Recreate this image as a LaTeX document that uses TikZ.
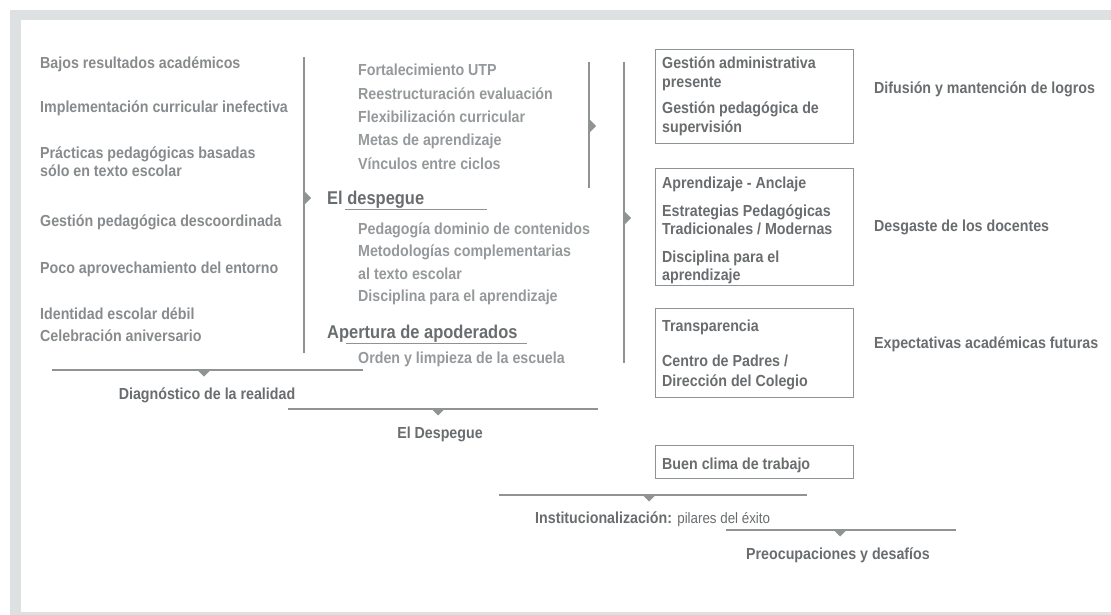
\documentclass[tikz,border=0pt]{standalone}
\usepackage{fontspec}
\setmainfont{Liberation Sans}[FakeStretch=0.89]
\usepackage{tikz}
\usetikzlibrary{positioning}
\definecolor{framegray}{HTML}{DDE1E1}
\definecolor{linegray}{HTML}{8F9394}
\definecolor{causegray}{HTML}{888B8D}
\definecolor{actiongray}{HTML}{96999B}
\definecolor{txtdark}{HTML}{6A6D6F}
\newcommand{\tipright}[1]{\fill[linegray] (#1) ++(1,-6) -- ++(6,6) -- ++(-6,6) -- cycle;}
\newcommand{\tipdown}[1]{\fill[linegray] (#1) ++(-6,0.5) -- ++(12,0) -- ++(-6,6) -- cycle;}

\begin{document}
\begin{tikzpicture}[x=1pt, y=-1pt,
  every node/.style={inner sep=0pt, anchor=base west, font=\bfseries\fontsize{16}{19}\selectfont},
  cause/.style={text=causegray},
  action/.style={text=actiongray},
  head/.style={text=txtdark, font=\bfseries\fontsize{18.5}{22}\selectfont},
  pillar/.style={text=txtdark},
  pillarbox/.style={draw=linegray, line width=1pt, anchor=north west, minimum width=198pt},
  stage/.style={text=txtdark, anchor=base},
  rule/.style={draw=linegray, line width=1.3pt}]
\useasboundingbox (0,0) rectangle (1111,615);
\fill[framegray] (10,10) rectangle (1111,615);
\fill[white] (21,20) rectangle (1111,612);

\node[cause] (c1) at (40,69) {Bajos resultados académicos};
\node[cause] (c2) at (40,113) {Implementación curricular inefectiva};
\node[cause] (c3) at (40,158) {Prácticas pedagógicas basadas};
\node[cause] (c3b) at (40,176) {sólo en texto escolar};
\node[cause] (c4) at (40,226) {Gestión pedagógica descoordinada};
\node[cause] (c5) at (40,273) {Poco aprovechamiento del entorno};
\node[cause] (c6) at (40,319) {Identidad escolar débil};
\node[cause] (c6b) at (40,341) {Celebración aniversario};

\node[action] (a1) at (358,76) {Fortalecimiento UTP};
\node[action] (a2) at (358,100) {Reestructuración evaluación};
\node[action] (a3) at (358,123) {Flexibilización curricular};
\node[action] (a4) at (358,146) {Metas de aprendizaje};
\node[action] (a5) at (358,169) {Vínculos entre ciclos};
\node[head] (despegue) at (327,204) {El despegue};
\node[action] (a6) at (358,234) {Pedagogía dominio de contenidos};
\node[action] (a7) at (358,256) {Metodologías complementarias};
\node[action] (a7b) at (358,279) {al texto escolar};
\node[action] (a8) at (358,301) {Disciplina para el aprendizaje};
\node[head] (apertura) at (327,338) {Apertura de apoderados};
\node[action] (a9) at (358,363) {Orden y limpieza de la escuela};

\node[pillarbox, minimum height=94pt] (box1) at (655,49) {};
\node[pillar] (p1) at (662,69) {Gestión administrativa};
\node[pillar] (p1b) at (662,88) {presente};
\node[pillar] (p2) at (662,114) {Gestión pedagógica de};
\node[pillar] (p2b) at (662,133) {supervisión};
\node[pillarbox, minimum height=117pt] (box2) at (655,168) {};
\node[pillar] (p3) at (662,189) {Aprendizaje - Anclaje};
\node[pillar] (p4) at (662,216) {Estrategias Pedagógicas};
\node[pillar] (p4b) at (662,234) {Tradicionales / Modernas};
\node[pillar] (p5) at (662,262) {Disciplina para el};
\node[pillar] (p5b) at (662,280) {aprendizaje};
\node[pillarbox, minimum height=89pt] (box3) at (655,308) {};
\node[pillar] (p6) at (662,331) {Transparencia};
\node[pillar] (p7) at (662,366) {Centro de Padres /};
\node[pillar] (p7b) at (662,386) {Dirección del Colegio};
\node[pillarbox, minimum height=33pt] (box4) at (655,445) {};
\node[pillar] (p8) at (662,469) {Buen clima de trabajo};

\node[pillar] (r1) at (874,94) {Difusión y mantención de logros};
\node[pillar] (r2) at (874,231) {Desgaste de los docentes};
\node[pillar] (r3) at (874,348) {Expectativas académicas futuras};

\node[stage] (diag) at (207,399) {Diagnóstico de la realidad};
\node[stage] (desp) at (440,438) {El Despegue};
\node[pillar] (inst) at (535,523) {Institucionalización: \mdseries\fontsize{15}{18}\selectfont pilares del éxito};
\node[stage] (preo) at (838,559) {Preocupaciones y desafíos};

\coordinate (v1a) at (304,57);
\coordinate (v1b) at (304,353);
\coordinate (v2a) at (589,62);
\coordinate (v2b) at (589,188);
\coordinate (v3a) at (624,62);
\coordinate (v3b) at (624,363);
\coordinate (u1a) at (345,209);
\coordinate (u1b) at (487,209);
\coordinate (u2a) at (346,343);
\coordinate (u2b) at (527,343);
\coordinate (h1a) at (52,370);
\coordinate (h1b) at (363,370);
\coordinate (h2a) at (288,409);
\coordinate (h2b) at (598,409);
\coordinate (h3a) at (499,495);
\coordinate (h3b) at (807,495);
\coordinate (h4a) at (726,530);
\coordinate (h4b) at (956,530);

\draw[rule] (v1a) -- (v1b);
\draw[rule] (v2a) -- (v2b);
\draw[rule] (v3a) -- (v3b);
\draw[rule, line width=1pt] (u1a) -- (u1b);
\draw[rule, line width=1pt] (u2a) -- (u2b);
\draw[rule] (h1a) -- (h1b);
\draw[rule] (h2a) -- (h2b);
\draw[rule] (h3a) -- (h3b);
\draw[rule] (h4a) -- (h4b);

\tipright{304,198}
\tipright{589,126}
\tipright{624,218}
\tipdown{204,370}
\tipdown{438,409}
\tipdown{649,495}
\tipdown{840,530}
\end{tikzpicture}
\end{document}
